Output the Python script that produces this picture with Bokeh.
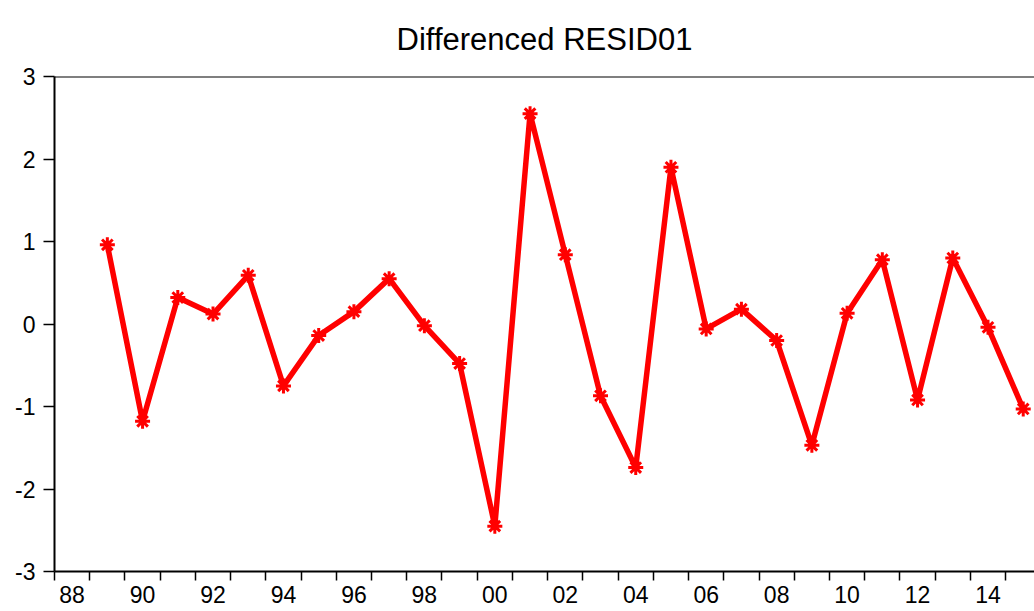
from bokeh.plotting import figure
from bokeh.models import Range1d, FixedTicker, Span, ColumnDataSource
from bokeh.embed import file_html
from bokeh.resources import INLINE

# ---- data ----
years = list(range(1989, 2016))
values = [0.96, -1.18, 0.32, 0.12, 0.59, -0.75, -0.14, 0.15, 0.55, -0.02, -0.48,
          -2.45, 2.55, 0.84, -0.87, -1.74, 1.90, -0.06, 0.18, -0.20, -1.47,
          0.13, 0.78, -0.92, 0.80, -0.04, -1.03]
label_years = list(range(1988, 2016, 2))
tick_labels = ["88", "90", "92", "94", "96", "98", "00", "02", "04", "06",
               "08", "10", "12", "14"]
y_ticks = [-3, -2, -1, 0, 1, 2, 3]
y_tick_labels = ["-3", "-2", "-1", "0", "1", "2", "3"]
title_text = "Differenced RESID01"

FONT = "Liberation Sans"

src = ColumnDataSource(dict(x=[y + 0.5 for y in years], y=values))

p = figure(width=1034, height=608, output_backend="svg", toolbar_location=None,
           x_range=Range1d(1988, 2015.82), y_range=Range1d(-3, 3),
           min_border_left=54, min_border_right=0, min_border_top=0,
           min_border_bottom=37)
p.title.text = title_text
p.title.text_font = FONT
p.title.text_font_size = "31px"
p.title.text_font_style = "normal"
p.title.text_color = "black"
p.title.align = "center"
p.title.standoff = 39

p.outline_line_color = None
p.grid.visible = False
p.background_fill_color = "white"
p.border_fill_color = "white"

p.line("x", "y", source=src, line_color="#ff0000", line_width=5.5)
p.scatter("x", "y", source=src, marker="asterisk", size=15,
          line_color="#ff0000", line_width=3)

p.add_layout(Span(location=3, dimension="width", line_color="black", line_width=2))

# x axis
xa = p.xaxis[0]
xa.ticker = FixedTicker(ticks=[y + 0.5 for y in label_years],
                        minor_ticks=list(range(1988, 2016)))
xa.major_label_overrides = {float(y + 0.5): t for y, t in zip(label_years, tick_labels)}
xa.major_tick_out = 0
xa.major_tick_in = 0
xa.minor_tick_out = 9
xa.minor_tick_in = 0
xa.minor_tick_line_color = "black"
xa.minor_tick_line_width = 1.5
xa.axis_line_color = "black"
xa.axis_line_width = 2
xa.major_label_text_font = FONT
xa.major_label_text_font_size = "23px"
xa.major_label_text_color = "black"
xa.major_label_standoff = 5

# y axis
ya = p.yaxis[0]
ya.ticker = FixedTicker(ticks=y_ticks)
ya.major_label_overrides = {t: s for t, s in zip(y_ticks, y_tick_labels)}
ya.major_tick_out = 11
ya.major_tick_in = 0
ya.minor_tick_out = 0
ya.minor_tick_in = 0
ya.major_tick_line_color = "black"
ya.major_tick_line_width = 1.5
ya.axis_line_color = "black"
ya.axis_line_width = 2
ya.major_label_text_font = FONT
ya.major_label_text_font_size = "23px"
ya.major_label_text_color = "black"
ya.major_label_standoff = 8

open("out.html", "w").write(file_html(p, INLINE))
